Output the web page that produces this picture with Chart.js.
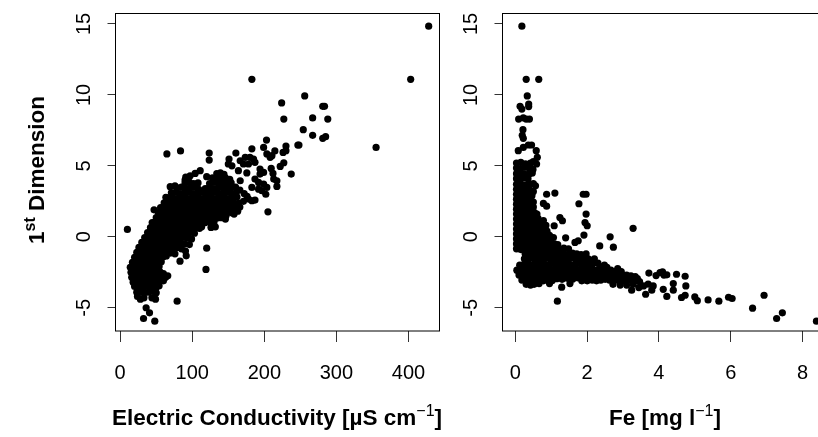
<!DOCTYPE html>
<html>
<head>
<meta charset="utf-8">
<script src="https://cdn.jsdelivr.net/npm/chart.js@4/dist/chart.umd.min.js"></script>
<style>
  html, body { margin: 0; padding: 0; background: #fff; overflow: hidden; width: 818px; height: 437px; }
  canvas { position: absolute; top: 0; }
  #ecChart { left: 0; }
  #feChart { left: 445px; }
  .axisLabel { position: absolute; font: bold 22.5px "Liberation Sans", Arial, sans-serif; color: #000; white-space: nowrap; line-height: 24px; }
  .axisLabel sup { font-size: 16px; line-height: 0; vertical-align: 9px; }
  .axisLabel sup.thin { font-weight: normal; }
  #labelEc { left: 112px; top: 406px; }
  #labelFe { left: 609px; top: 406px; }
  #labelDim { left: 37px; top: 170px; transform: translate(-50%, -50%) rotate(-90deg); }
</style>
</head>
<body>
<canvas id="ecChart" width="445" height="437"></canvas>
<canvas id="feChart" width="400" height="437"></canvas>
<div class="axisLabel" id="labelDim">1<sup>st</sup> Dimension</div>
<div class="axisLabel" id="labelEc">Electric Conductivity [µS cm<sup class="thin">−1</sup>]</div>
<div class="axisLabel" id="labelFe">Fe [mg l<sup class="thin">−1</sup>]</div>
<script>
// shared axis stuff
const dimTicks = [-5, 0, 5, 10, 15];
const ecTicks = [0, 100, 200, 300, 400];
const feTicks = [0, 2, 4, 6, 8];

// left panel, [conductivity, dimension]
const ecOutliers = [
  [428,14.85],[403,11.1],[182.7,11.1],[256,9.93],[224,9.44],[281,9.2],[283.5,9.2],[227,8.3],[267,8.38],[288,8.3],
  [254,7.55],[267,7.15],[281,6.94],[285,7.06],[355,6.3],[246.5,6.47],[248,6.47],[230,6.4],[203,6.82],[199,6.3],
  [182.7,6.2],[214.6,6.05],[226,5.95],[230,6.07],[203.5,5.84],[83.7,6.05],[64.8,5.84],[123.5,5.9],[123.5,5.41],[160.5,5.9],
  [208,5.6],[210.5,5.72],[227,5.22],[222,4.96],[209.5,4.82],[237.3,4.42],[212,4.47],[213,4.07],[217.4,3.95],[217.4,3.55],
  [205,1.76],[10,0.52],[120,-0.8],[119,-2.3],[79,-4.54],[32.4,-5.76],[40.7,-5.36],[48,-5.95],[36,-5.0],[83,-1.72],
  [91.6,-1.34],[90.6,-1]
];
const ecUpperScatter = [
  [194,4.78],[199,4.54],[194,4.42],[187,4.07],[192,3.83],[199,3.72],[203.5,3.48],[192,3.36],[196.6,3.25],[202,3.0],
  [182.7,2.54],[187,2.59],[178,2.66],[182.7,3.48],[187,5.25],[185,5.48],[180,5.6],[173.5,5.6],[166.5,5.36],[178,5.13],
  [171,5.13],[164,4.66],[175.7,4.5],[166.5,3.95],[150,5.13],[155,5.0],[151,5.48],[120,4.24],[111,4.66],[104,4.47],
  [97,4.3],[91,4.2],[90,4.0],[69.4,3.53],[76,3.6],[63.4,2.78],[47,1.9],[44.4,1.0],[172,3.05],[163,2.15],
  [158,1.6],[146,1.25],[132,0.7],[110,0.6],[126,0.66],[176,2.85]
];
const ecLowerCloud = [
  [24,-4.2],[28,-4.4],[33,-4.3],[44,-4.3],[49,-4.4],
  [23,-3.9],[28,-3.85],[33,-3.95],[39,-3.9],[45,-3.85],[50,-3.95],
  [20,-3.5],[26,-3.55],[32,-3.6],[38,-3.5],[44,-3.55],[50,-3.6],[54,-3.45],
  [18,-3.2],[24,-3.15],[30,-3.25],[36,-3.2],[42,-3.15],[48,-3.25],[54,-3.15],[60,-3.1],
  [16,-2.85],[22,-2.8],[28,-2.9],[34,-2.85],[40,-2.8],[46,-2.9],[52,-2.85],[58,-2.8],[63,-2.85],[66,-2.75],
  [15,-2.5],[21,-2.45],[27,-2.55],[33,-2.5],[39,-2.45],[45,-2.55],[51,-2.5],[55,-2.45],[60,-2.6],
  [14,-2.15],[19,-2.1],[25,-2.2],[31,-2.15],[37,-2.1],[43,-2.2],[49,-2.15],[54,-2.1],
  [17,-1.8],[22,-1.75],[28,-1.85],[34,-1.8],[40,-1.75],[46,-1.85],[52,-1.8],[57,-1.75],
  [20,-1.45],[25,-1.4],[31,-1.5],[37,-1.45],[43,-1.4],[49,-1.5],[55,-1.45],[60,-1.4],[64,-1.35],
  [23,-1.1],[28,-1.05],[34,-1.15],[40,-1.1],[46,-1.05],[52,-1.15],[58,-1.1],[64,-1.05],[70,-1.15],[76,-1.2]
];
const ecMidCloud = [
  [26,-.75],[31,-.7],[37,-.8],[43,-.75],[49,-.7],[55,-.8],[61,-.75],[67,-.7],[73,-.8],[79,-.75],[85,-.85],
  [30,-.4],[35,-.35],[41,-.45],[47,-.4],[53,-.35],[59,-.45],[65,-.4],[71,-.35],[77,-.45],[83,-.4],[89,-.5],[96,-.55],
  [34,-.05],[39,0],[45,-.1],[51,-.05],[57,0],[63,-.1],[69,-.05],[75,0],[81,-.1],[87,-.05],[93,-.1],[99,-.15],
  [38,.3],[43,.35],[49,.25],[55,.3],[61,.35],[67,.25],[73,.3],[79,.35],[85,.25],[91,.3],[97,.3],[103,.25],
  [42,.65],[47,.7],[53,.6],[59,.65],[65,.7],[71,.6],[77,.65],[83,.7],[89,.6],[95,.65],[101,.7],[107,.65],[113,.7],
  [47,1.0],[52,1.05],[58,.95],[64,1.0],[70,1.05],[76,.95],[82,1.0],[88,1.05],[94,.95],[100,1.0],[106,1.05],[112,.95],[118,1.0],[124,1.05],[130,1.0],
  [50,1.35],[56,1.4],[62,1.3],[68,1.35],[74,1.4],[80,1.3],[86,1.35],[92,1.4],[98,1.3],[104,1.35],[110,1.4],[116,1.3],[122,1.35],[128,1.4],[134,1.3],[140,1.35],[147,1.5]
];
const ecTopCloud = [
  [53,1.7],[59,1.75],[65,1.65],[71,1.7],[77,1.75],[83,1.65],[89,1.7],[95,1.75],[101,1.65],[107,1.7],[113,1.75],[119,1.65],[125,1.7],[131,1.75],[137,1.65],[143,1.7],[149,1.75],[155,1.7],[163,1.8],
  [56,2.05],[62,2.1],[68,2],[74,2.05],[80,2.1],[86,2],[92,2.05],[98,2.1],[104,2],[110,2.05],[116,2.1],[122,2],[128,2.05],[134,2.1],[140,2],[146,2.05],[152,2.1],[158,2],[166,2.1],
  [61,2.4],[67,2.45],[73,2.35],[79,2.4],[85,2.45],[91,2.35],[97,2.4],[103,2.45],[109,2.35],[115,2.4],[121,2.45],[127,2.35],[133,2.4],[139,2.45],[145,2.35],[151,2.4],[157,2.45],[164,2.35],[171,2.5],
  [66,2.75],[72,2.8],[78,2.7],[84,2.75],[90,2.8],[96,2.7],[102,2.75],[108,2.8],[114,2.7],[120,2.75],[126,2.8],[132,2.7],[138,2.75],[144,2.8],[150,2.7],[156,2.75],[162,2.8],
  [71,3.1],[77,3.15],[83,3.05],[89,3.1],[95,3.15],[101,3.05],[107,3.1],[113,3.15],[119,3.05],[125,3.1],[131,3.15],[137,3.05],[143,3.1],[149,3.15],[155,3.05],[161,3.1],[166,3.3],
  [79,3.45],[85,3.5],[91,3.4],[97,3.45],[103,3.5],[109,3.35],[118,3.4],[124,3.5],[130,3.4],[136,3.45],[142,3.5],[148,3.4],[154,3.45],[160,3.5],
  [90,3.8],[96,3.85],[102,3.75],[108,3.8],[124,3.75],[130,3.85],[136,3.8],[142,3.85],[148,3.75],[154,3.8],
  [94,4.15],[128,4.15],[134,4.2],[140,4.1],[146,4.15],[152,4.05],
  [134,4.45],[139,4.5],[144,4.4]
];

// right panel, [Fe, dimension]
const feOutliers = [
  [.18,14.85],[.3,11.1],[.65,11.1],[.33,9.93],[.13,9.2],[.18,9.0],[.37,9.36],[.37,9.18],[.09,8.3],[.22,8.38],
  [.3,8.3],[.39,8.3],[.21,7.55],[.19,7.15],[.22,6.94],[.08,6.07],[.22,6.3],[.36,6.47],[.45,6.47],[.58,6.07],
  [.61,5.6],[.59,5.13],[.87,3.0],[1.1,3.08],[.78,2.35],[.87,2.16],[1.89,3.0],[1.97,3.0],[1.77,2.33],[1.97,1.6],
  [1.94,1.0],[2.0,.78],[1.24,1.36],[1.31,1.13],[1.08,.78],[1.91,.12],[1.4,-.07],[2.64,0],[3.28,.6],[2.35,-.64],
  [2.73,-.73],[1.75,-.28],[1.66,-.4],[1.17,-4.54],[1.29,-3.55],[1.52,-3.3],[1.85,-3.1]
];
const feTail = [
  [3.72,-2.56],[3.92,-2.73],[4.03,-2.52],[4.1,-2.47],[4.14,-2.7],[4.22,-2.68],[4.49,-2.64],[4.73,-2.78],[4.75,-3.46],[4.4,-3.3],
  [4.12,-3.7],[4.4,-3.76],[4.22,-4.2],[3.63,-4.05],[4.63,-4.28],[4.73,-4.12],[5.0,-4.24],[5.07,-4.5],[5.37,-4.45],[5.67,-4.54],
  [5.94,-4.26],[6.04,-4.35],[6.61,-5.03],[6.93,-4.12],[7.28,-5.76],[7.44,-5.36],[8.39,-5.95],[3.24,-3.76],[3.8,-3.76],[3.84,-3.46],
  [3.7,-3.34],[3.57,-3.46],[3.44,-3.58]
];
const feSpike = [
  [.03,5.2],[.15,5.25],[.28,5.15],[.42,5.2],[.5,5.3],
  [.03,4.85],[.14,4.8],[.26,4.9],[.38,4.85],[.49,4.75],
  [.03,4.45],[.15,4.5],[.27,4.4],[.4,4.45],[.47,4.5],
  [.03,4.1],[.13,4.05],[.24,4.15],[.35,4.1],
  [.03,3.7],[.14,3.75],[.26,3.65],[.38,3.7],[.5,3.75],[.56,3.6],
  [.03,3.35],[.15,3.3],[.27,3.4],[.38,3.35],[.5,3.2],
  [.03,3.0],[.13,3.05],[.25,2.95],[.36,3.0],[.46,2.9],
  [.03,2.65],[.15,2.6],[.26,2.7],[.38,2.65],[.5,2.45],
  [.03,2.3],[.13,2.25],[.25,2.35],[.37,2.3],[.5,2.1],
  [.03,1.95],[.15,1.9],[.27,2.0],[.39,1.95],[.53,1.7],
  [.03,1.6],[.13,1.55],[.25,1.65],[.37,1.6],[.49,1.55],[.6,1.6],
  [.03,1.25],[.15,1.2],[.27,1.3],[.39,1.25],[.51,1.2],[.63,1.3],[.78,1.15],
  [.03,.9],[.13,.85],[.25,.95],[.37,.9],[.49,.85],[.61,.95],[.73,.9],[.85,.8],
  [.03,.55],[.15,.5],[.27,.6],[.39,.55],[.51,.5],[.63,.6],[.75,.55],[.88,.4],
  [.03,.2],[.13,.15],[.25,.25],[.37,.2],[.49,.15],[.61,.25],[.73,.2],[.85,.15],[.95,.1],
  [.03,-.15],[.15,-.2],[.27,-.1],[.39,-.15],[.51,-.2],[.63,-.1],[.75,-.15],[.87,-.2],[.99,-.1],[1.06,-.05],
  [.03,-.5],[.13,-.55],[.25,-.45],[.37,-.5],[.49,-.55],[.61,-.45],[.73,-.5],[.85,-.55],[.97,-.45],[1.09,-.5],[1.18,-.55],
  [.03,-.85],[.15,-.9],[.27,-.8],[.39,-.85],[.51,-.9],[.63,-.8],[.75,-.85],[.87,-.9],[.99,-.8],[1.11,-.85],[1.23,-.9],[1.35,-.8],[1.48,-.85]
];
const feElbow = [
  [.27,-1.2],[.39,-1.25],[.51,-1.15],[.63,-1.2],[.75,-1.25],[.87,-1.15],[.99,-1.2],[1.11,-1.25],[1.23,-1.15],[1.35,-1.2],[1.47,-1.25],[1.59,-1.15],[1.71,-1.2],[1.83,-1.25],[1.97,-1.2],
  [.25,-1.55],[.35,-1.6],[.47,-1.5],[.59,-1.55],[.71,-1.6],[.83,-1.5],[.95,-1.55],[1.07,-1.6],[1.19,-1.5],[1.31,-1.55],[1.43,-1.6],[1.55,-1.5],[1.67,-1.55],[1.79,-1.6],[1.91,-1.5],[2.03,-1.55],[2.2,-1.55],
  [.12,-2.0],[.24,-1.95],[.36,-1.9],[.48,-2.0],[.6,-1.95],[.72,-1.9],[.84,-2.0],[.96,-1.95],[1.08,-1.9],[1.2,-2.0],[1.32,-1.95],[1.44,-1.9],[1.56,-2.0],[1.68,-1.95],[1.8,-1.9],[1.92,-2.0],[2.04,-1.95],[2.16,-1.9],[2.3,-1.85],[2.48,-2.0],
  [.04,-2.35],[.16,-2.3],[.28,-2.35],[.4,-2.3],[.52,-2.35],[.64,-2.3],[.76,-2.35],[.88,-2.3],[1.0,-2.35],[1.12,-2.3],[1.24,-2.35],[1.36,-2.3],[1.48,-2.35],[1.6,-2.3],[1.72,-2.35],[1.84,-2.3],[1.96,-2.35],[2.08,-2.3],[2.2,-2.35],[2.32,-2.3],[2.44,-2.35],[2.56,-2.3],[2.66,-2.35],[2.85,-2.25],
  [.1,-2.7],[.22,-2.65],[.34,-2.7],[.46,-2.65],[.58,-2.7],[.7,-2.65],[.82,-2.7],[.94,-2.65],[1.06,-2.7],[1.18,-2.65],[1.3,-2.7],[1.42,-2.65],[1.54,-2.7],[1.66,-2.65],[1.78,-2.7],[1.9,-2.65],[2.02,-2.7],[2.14,-2.65],[2.26,-2.7],[2.38,-2.65],[2.5,-2.7],[2.62,-2.65],[2.74,-2.7],[2.86,-2.65],[2.98,-2.7],[3.1,-2.7],[3.22,-2.75],[3.34,-2.8],
  [.18,-3.05],[.3,-3.1],[.42,-3.05],[.54,-3.1],[.66,-3.05],[.78,-3.1],[.9,-3.05],[1.02,-3.1],[2.0,-3.1],[2.14,-3.05],[2.26,-3.1],[2.38,-3.05],[2.5,-3.0],[2.62,-3.05],[2.74,-3.1],[2.86,-3.05],[2.98,-3.1],[3.1,-3.05],[3.22,-3.05],[3.34,-3.1],[3.46,-3.15],
  [.3,-3.35],[.42,-3.4],[.52,-3.35],[.66,-3.3],[.95,-3.3],[2.72,-3.35],[2.92,-3.4],[3.1,-3.4],[3.28,-3.35]
];
// between the elbow rows, the reference has no stripes there
const feElbowFill = [
  [.33,-1.78],[.55,-1.72],[.78,-1.76],[1.0,-1.8],[1.24,-1.74],[1.47,-1.78],[1.7,-1.73],[1.92,-1.77],[2.12,-1.75],
  [.2,-2.16],[.43,-2.12],[.68,-2.18],[.92,-2.13],[1.16,-2.17],[1.4,-2.12],[1.64,-2.18],[1.88,-2.13],[2.12,-2.17],[2.36,-2.12],[2.55,-2.15],
  [.13,-2.5],[.37,-2.46],[.61,-2.52],[.85,-2.47],[1.09,-2.51],[1.33,-2.46],[1.57,-2.52],[1.81,-2.47],[2.05,-2.51],[2.29,-2.46],[2.53,-2.5],[2.77,-2.46],[2.95,-2.45],
  [.25,-2.88],[.5,-2.85],[.74,-2.9],[.98,-2.86],[1.15,-2.95],[1.3,-3.0],[1.45,-2.92],[1.6,-2.98],[1.75,-2.9],[1.9,-2.96],[2.2,-2.86],[2.44,-2.9],[2.68,-2.85],[2.92,-2.9],[3.16,-2.88],[3.4,-2.95]
];

// R style box round the plot, chart.js only gives left/bottom borders
const boxFrame = {
  id: 'boxFrame',
  afterDraw(chart) {
    const { ctx, chartArea: a } = chart;
    ctx.save();
    ctx.strokeStyle = '#000';
    ctx.lineWidth = 1;
    ctx.strokeRect(a.left, a.top, a.right - a.left, a.bottom - a.top);
    ctx.restore();
  }
};

function makePanel(id, points, xMin, xMax, xTicks, yWidth, padRight) {
  const font = { family: '"Liberation Sans", Arial, sans-serif', size: 20 };
  return new Chart(document.getElementById(id), {
    type: 'scatter',
    data: { datasets: [{ data: points.map(([x, y]) => ({ x, y })), backgroundColor: '#000', borderWidth: 0, pointRadius: 3.6 }] },
    plugins: [boxFrame],
    options: {
      responsive: false,
      animation: false,
      layout: { padding: { top: 13.5, right: padRight, left: 0, bottom: 0 } },
      plugins: { legend: { display: false }, tooltip: { enabled: false } },
      scales: {
        x: {
          type: 'linear', min: xMin, max: xMax,
          afterBuildTicks: s => { s.ticks = xTicks.map(value => ({ value })); },
          afterFit: s => { s.height = 437 - 331; s.paddingLeft = 0; s.paddingRight = 0; },
          grid: { drawOnChartArea: false, tickLength: 11, tickColor: '#333', tickWidth: 1 },
          border: { display: false },
          ticks: { font, color: '#000', padding: 19, maxRotation: 0, autoSkip: false, callback: v => String(v) }
        },
        y: {
          type: 'linear', min: -6.64, max: 15.74,
          afterBuildTicks: s => { s.ticks = dimTicks.map(value => ({ value })); },
          afterFit: s => { s.width = yWidth; s.paddingTop = 0; s.paddingBottom = 0; },
          grid: { drawOnChartArea: false, tickLength: 8, tickColor: '#333', tickWidth: 1 },
          border: { display: false },
          ticks: { font, color: '#000', padding: 12, minRotation: 90, maxRotation: 90, crossAlign: 'center', autoSkip: false, callback: v => String(v) }
        }
      }
    }
  });
}

const ecPoints = [...ecLowerCloud, ...ecMidCloud, ...ecTopCloud, ...ecUpperScatter, ...ecOutliers];
const fePoints = [...feSpike, ...feElbow, ...feElbowFill, ...feTail, ...feOutliers];
makePanel('ecChart', ecPoints, -6.5, 443, ecTicks, 115.5, 5.5);
makePanel('feChart', fePoints, -0.36, 8.74, feTicks, 57.5, 16);
</script>
</body>
</html>
